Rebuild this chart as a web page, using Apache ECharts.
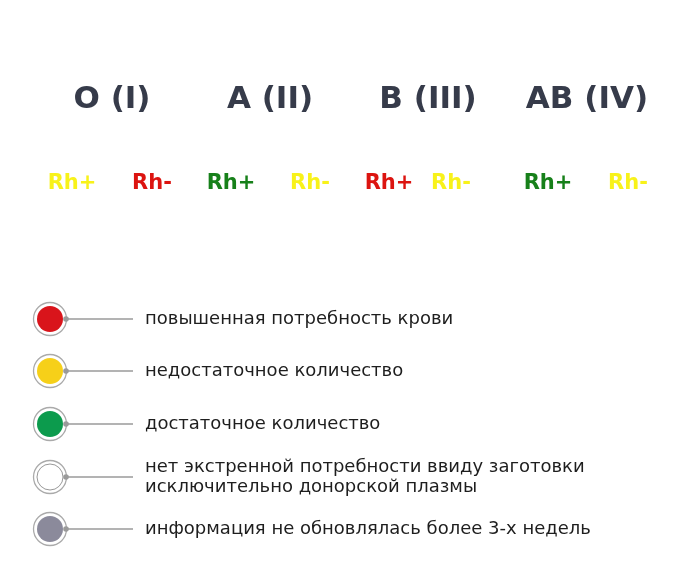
<!DOCTYPE html>
<html><head><meta charset="utf-8">
<script src="https://cdn.jsdelivr.net/npm/echarts@6/dist/echarts.min.js"></script>
<style>html,body{margin:0;background:#fff}#c{width:700px;height:576px}</style>
</head><body><div id="c"></div>
<script>
const groups = ['O (I)', 'A (II)', 'B (III)', 'AB (IV)'];
const rhLabels = ['Rh+', 'Rh-', 'Rh+', 'Rh-', 'Rh+', 'Rh-', 'Rh+', 'Rh-'];
const rhStatus = ['yellow', 'red', 'green', 'yellow', 'red', 'yellow', 'green', 'yellow'];
const legendStatus = ['red', 'yellow', 'green', 'white', 'gray'];
const legendLabels = [
  'повышенная потребность крови',
  'недостаточное количество',
  'достаточное количество',
  'нет экстренной потребности ввиду заготовки\nисключительно донорской плазмы',
  'информация не обновлялась более 3-х недель'
];
const textColors = {yellow:'#f8f21a', red:'#dc1410', green:'#17801a'};
const dotColors = {red:'#d9141b', yellow:'#f6d019', green:'#0c9b4d', white:'#ffffff', gray:'#8b8a9b'};

const groupX = [112, 270, 428, 587];
const rhX = [72, 152, 231, 310, 389, 451, 548, 628];
const legY = [319, 371, 424, 477, 529];

const g = [];
groups.forEach((t, i) => g.push({type:'text', x:groupX[i], y:100,
  style:{text:t, fill:'#363b4a', font:'bold 31px "DejaVu Sans", sans-serif', textAlign:'center', textVerticalAlign:'middle'}}));
rhLabels.forEach((t, i) => g.push({type:'text', x:rhX[i], y:184,
  style:{text:t, fill:textColors[rhStatus[i]], font:'bold 21px "DejaVu Sans", sans-serif', textAlign:'center', textVerticalAlign:'middle'}}));
legendStatus.forEach((s, i) => {
  const y = legY[i];
  g.push({type:'line', shape:{x1:66, y1:y, x2:133, y2:y}, style:{stroke:'#9a9a9a', lineWidth:1.5}});
  g.push({type:'circle', shape:{cx:50, cy:y, r:16.5}, style:{fill:'#fff', stroke:'#aaaaaa', lineWidth:1.3}});
  g.push({type:'circle', shape:{cx:50, cy:y, r:13}, style:{fill:dotColors[s], stroke: s==='white' ? '#999' : null, lineWidth:1}});
  g.push({type:'circle', shape:{cx:66, cy:y, r:2.8}, style:{fill:'#9a9a9a'}});
  g.push({type:'text', x:145, y:y, style:{text:legendLabels[i], fill:'#1e1e1e', font:'18px "DejaVu Sans", sans-serif', textVerticalAlign:'middle', lineHeight:20}});
});
const chart = echarts.init(document.getElementById('c'));
chart.setOption({backgroundColor:'#fff', graphic:g});
</script></body></html>
